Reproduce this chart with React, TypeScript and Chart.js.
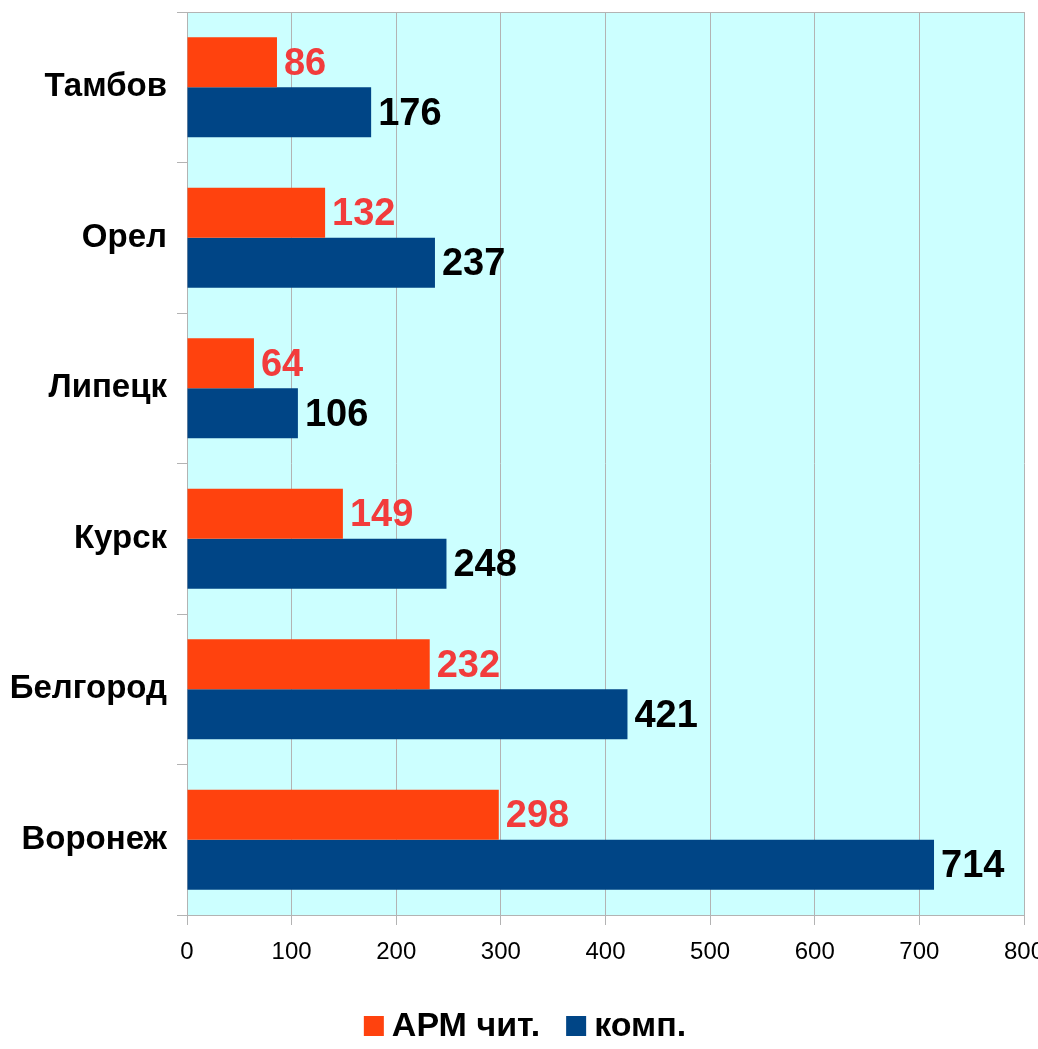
import React, { useEffect, useRef } from "react";
import { Chart, registerables } from "chart.js";

Chart.register(...registerables);

const categories = ["Тамбов", "Орел", "Липецк", "Курск", "Белгород", "Воронеж"];
const armValues = [86, 132, 64, 149, 232, 298];
const compValues = [176, 237, 106, 248, 421, 714];
const seriesNames = ["АРМ чит.", "комп."];
const seriesColors = ["#ff420e", "#004586"];
const labelColors = ["#f23c3c", "#000000"];
const xTicks = [0, 100, 200, 300, 400, 500, 600, 700, 800];

const FONT = "'Liberation Sans', Arial, sans-serif";

const bgPlugin = {
  id: "bgPlugin",
  beforeDraw(chart: any) {
    const { ctx, chartArea: a } = chart;
    ctx.save();
    ctx.fillStyle = "#ccffff";
    ctx.fillRect(a.left, a.top, a.right - a.left, a.bottom - a.top);
    ctx.restore();
  },
  afterDraw(chart: any) {
    const { ctx, chartArea: a } = chart;
    ctx.save();
    ctx.strokeStyle = "#b3b3b3";
    ctx.lineWidth = 1;
    ctx.beginPath();
    ctx.moveTo(a.left, a.top + 0.5);
    ctx.lineTo(a.right, a.top + 0.5);
    ctx.stroke();
    ctx.restore();
  },
};

const valueLabelPlugin = {
  id: "valueLabelPlugin",
  afterDatasetsDraw(chart: any) {
    const { ctx } = chart;
    ctx.save();
    ctx.font = `bold 38px ${FONT}`;
    ctx.textAlign = "left";
    ctx.textBaseline = "middle";
    chart.data.datasets.forEach((ds: any, i: number) => {
      const meta = chart.getDatasetMeta(i);
      ctx.fillStyle = labelColors[i];
      meta.data.forEach((el: any, j: number) => {
        ctx.fillText(String(ds.data[j]), el.x + 7, el.y + 2);
      });
    });
    ctx.restore();
  },
};

const legendPlugin = {
  id: "customLegend",
  afterDraw(chart: any) {
    const { ctx } = chart;
    ctx.save();
    ctx.font = `bold 34px ${FONT}`;
    ctx.textBaseline = "middle";
    ctx.textAlign = "left";
    const box = 20;
    const gapText = 8;
    const gapItem = 26;
    const widths = seriesNames.map((n) => box + gapText + ctx.measureText(n).width);
    const total = widths.reduce((s, w) => s + w, 0) + gapItem * (widths.length - 1);
    let x = 1050 / 2 - total / 2;
    const cy = 1026;
    seriesNames.forEach((n, i) => {
      ctx.fillStyle = seriesColors[i];
      ctx.fillRect(x, cy - box / 2, box, box);
      ctx.fillStyle = "#000";
      ctx.fillText(n, x + box + gapText, cy + 1);
      x += widths[i] + gapItem;
    });
    ctx.restore();
  },
};

export default function App() {
  const ref = useRef<HTMLCanvasElement>(null);
  useEffect(() => {
    if (!ref.current) return;
    const chart = new Chart(ref.current, {
      type: "bar",
      data: {
        labels: categories,
        datasets: [
          { label: seriesNames[0], data: armValues, backgroundColor: seriesColors[0], categoryPercentage: 0.665, barPercentage: 1 },
          { label: seriesNames[1], data: compValues, backgroundColor: seriesColors[1], categoryPercentage: 0.665, barPercentage: 1 },
        ],
      },
      options: {
        indexAxis: "y",
        animation: false,
        responsive: false,
        maintainAspectRatio: false,
        layout: { padding: { left: 0, top: 12, right: 36, bottom: 88 } },
        plugins: { legend: { display: false }, tooltip: { enabled: false } },
        scales: {
          x: {
            min: 0,
            max: 800,
            afterBuildTicks(scale: any) {
              scale.ticks = xTicks.map((v) => ({ value: v }));
            },
            afterFit(scale: any) {
              scale.height = 46;
              scale.paddingRight = 0;
              scale.paddingLeft = 0;
            },
            grid: { color: "#b3b3b3", tickLength: 10, lineWidth: 1 },
            border: { color: "#b3b3b3" },
            ticks: { color: "#000", font: { family: FONT, size: 24 }, padding: 13, maxRotation: 0, autoSkip: false },
          },
          y: {
            afterFit(scale: any) {
              scale.width = 187;
              scale.paddingTop = 0;
              scale.paddingBottom = 0;
            },
            grid: { offset: true, drawOnChartArea: false, color: "#b3b3b3", tickLength: 10 },
            border: { color: "#b3b3b3" },
            ticks: { color: "#000", font: { family: FONT, size: 33, weight: "bold" }, padding: 10 },
          },
        },
      },
      plugins: [bgPlugin, valueLabelPlugin, legendPlugin],
    });
    return () => chart.destroy();
  }, []);
  return (
    <div style={{ position: "absolute", left: 0, top: 0, width: 1038, height: 1049, overflow: "hidden", background: "#fff" }}>
      <canvas ref={ref} width={1060} height={1049} style={{ display: "block", width: 1060, height: 1049 }} />
    </div>
  );
}
